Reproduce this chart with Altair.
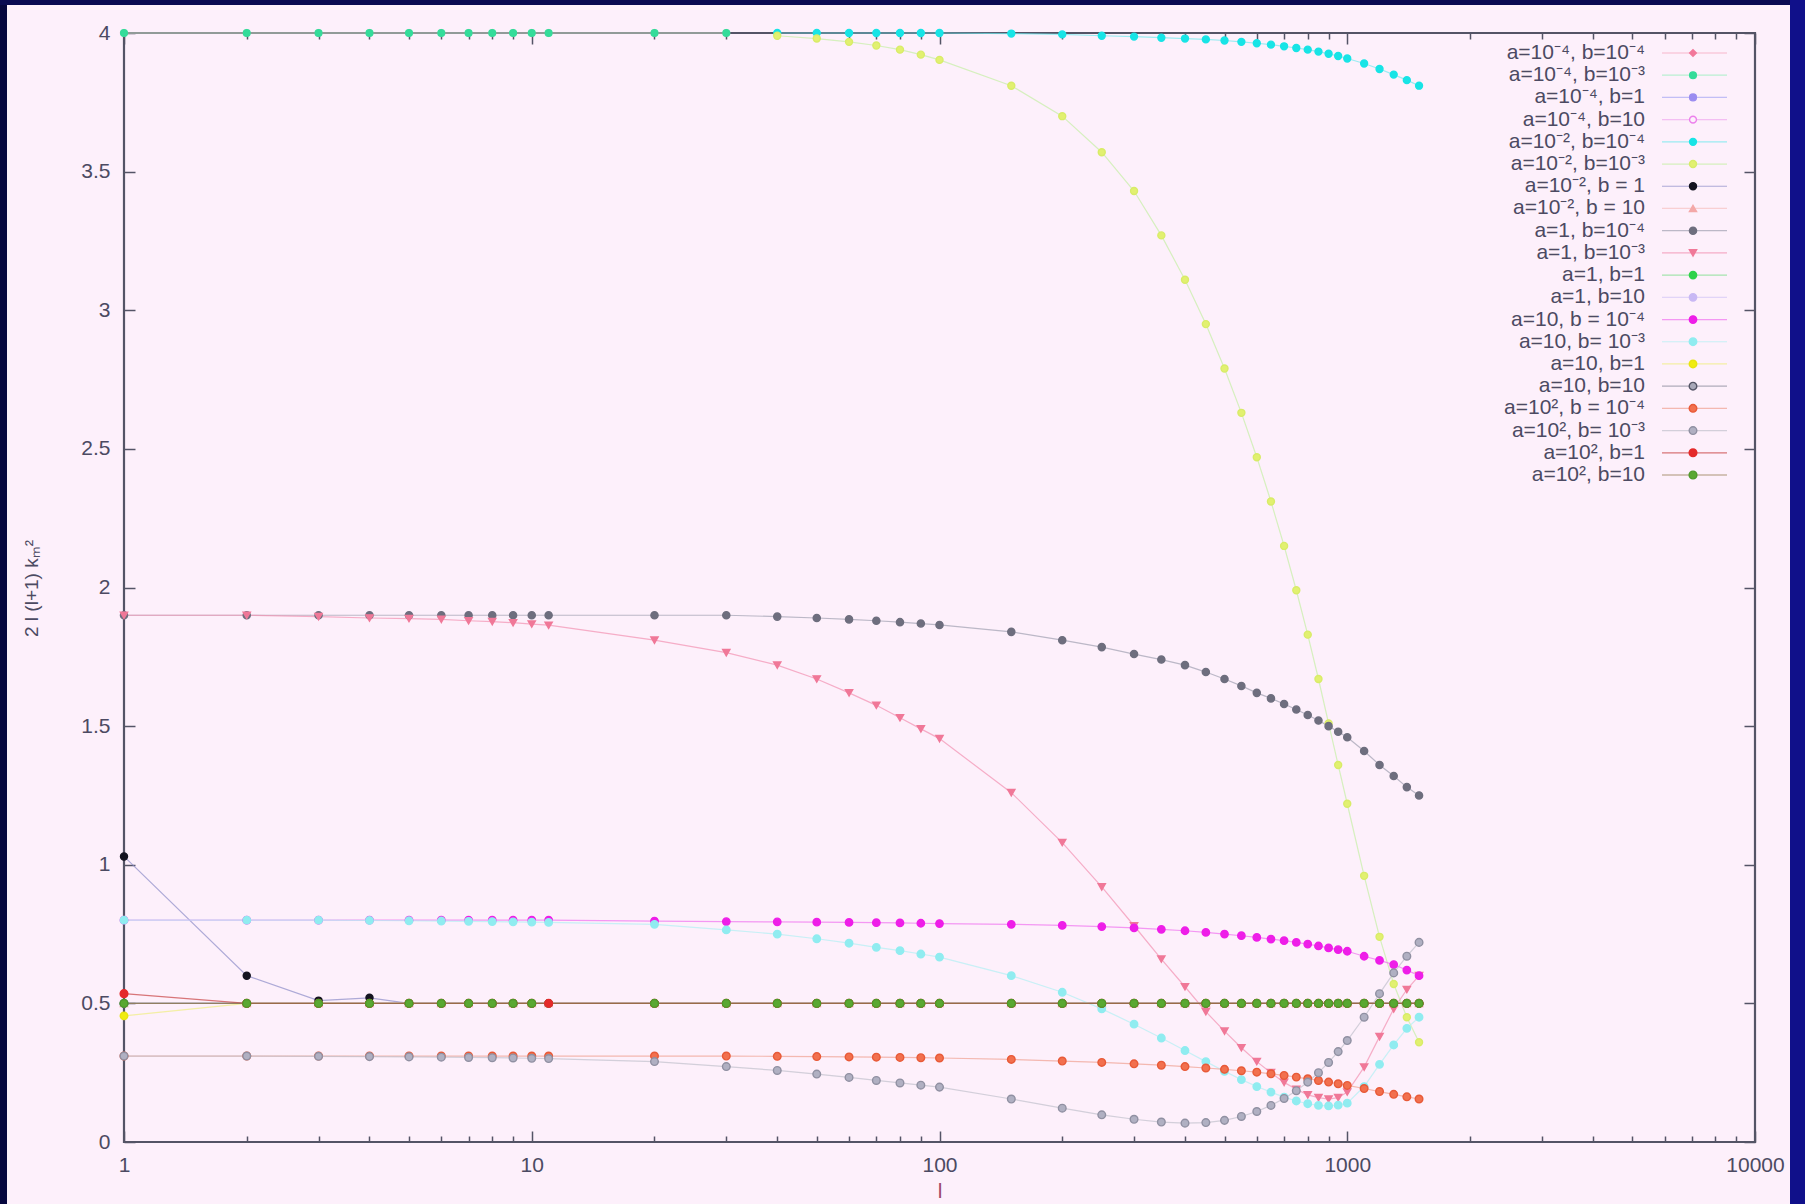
import altair as alt
import pandas as pd

# ---- sampling points in l -------------------------------------------------
L_ALL = [1, 2, 3, 4, 5, 6, 7, 8, 9, 10, 11,
         20, 30, 40, 50, 60, 70, 80, 90, 100,
         150, 200, 250, 300, 350, 400, 450, 500, 550, 600,
         650, 700, 750, 800, 850, 900, 950, 1000,
         1100, 1200, 1300, 1400, 1500]
L_LOW = [1, 2, 3, 4, 5, 6, 7, 8, 9, 10, 11, 20, 30]
L_FROM40 = [40, 50, 60, 70, 80, 90, 100,
            150, 200, 250, 300, 350, 400, 450, 500, 550, 600,
            650, 700, 750, 800, 850, 900, 950, 1000,
            1100, 1200, 1300, 1400, 1500]
L_NO11 = [1, 2, 3, 4, 5, 6, 7, 8, 9, 10,
          20, 30, 40, 50, 60, 70, 80, 90, 100,
          150, 200, 250, 300, 350, 400, 450, 500, 550, 600,
          650, 700, 750, 800, 850, 900, 950, 1000,
          1100, 1200, 1300, 1400, 1500]

# ---- curves: 2 l (l+1) k_m^2 -----------------------------------------------
v_a4_b4 = [4.0] * 13
v_a4_b3 = [4.0] * 13
v_a4_b1 = [0.5] * 43
v_a4_b10 = [0.5] * 43
v_a2_b4 = [4.0, 4.0, 4.0, 4.0, 4.0, 4.0, 4.0,
           3.998, 3.995, 3.99, 3.987, 3.983, 3.98, 3.977, 3.973, 3.968, 3.963,
           3.958, 3.952, 3.946, 3.94, 3.933, 3.925, 3.917, 3.908,
           3.89, 3.87, 3.85, 3.83, 3.81]
v_a2_b3 = [3.99, 3.98, 3.968, 3.955, 3.94, 3.922, 3.903,
           3.81, 3.70, 3.57, 3.43, 3.27, 3.11, 2.95, 2.79, 2.63, 2.47,
           2.31, 2.15, 1.99, 1.83, 1.67, 1.51, 1.36, 1.22,
           0.96, 0.74, 0.57, 0.45, 0.36]
v_a2_b1 = [1.03, 0.60, 0.51, 0.52] + [0.5] * 39
v_a2_b10 = [0.5] * 43
v_a1_b4 = [1.9, 1.9, 1.9, 1.9, 1.9, 1.9, 1.9, 1.9, 1.9, 1.9, 1.9,
           1.9, 1.9, 1.895, 1.89, 1.885, 1.88, 1.875, 1.87, 1.865,
           1.84, 1.81, 1.785, 1.76, 1.74, 1.72, 1.695, 1.67, 1.645, 1.62,
           1.60, 1.58, 1.56, 1.54, 1.52, 1.50, 1.48, 1.46,
           1.41, 1.36, 1.32, 1.28, 1.25]
v_a1_b3 = [1.90, 1.90, 1.895, 1.89, 1.888, 1.885, 1.88, 1.877, 1.873, 1.868, 1.864,
           1.81, 1.765, 1.72, 1.67, 1.62, 1.575, 1.53, 1.49, 1.455,
           1.26, 1.08, 0.92, 0.78, 0.66, 0.56, 0.47, 0.40, 0.34, 0.29,
           0.25, 0.215, 0.19, 0.17, 0.16, 0.155, 0.16, 0.18,
           0.27, 0.38, 0.48, 0.55, 0.60]
v_a1_b1 = [0.5] * 43
v_a1_b10 = [0.5] * 43
v_a10_b4 = [0.8] * 11 + [
           0.797, 0.795, 0.794, 0.793, 0.792, 0.791, 0.79, 0.789, 0.788,
           0.785, 0.781, 0.777, 0.772, 0.767, 0.762, 0.756, 0.75, 0.744, 0.738,
           0.732, 0.726, 0.72, 0.714, 0.707, 0.70, 0.694, 0.688,
           0.67, 0.655, 0.64, 0.62, 0.60]
v_a10_b3 = [0.8, 0.8, 0.8, 0.799, 0.798, 0.797, 0.796, 0.795, 0.794, 0.793, 0.792,
            0.785, 0.765, 0.75, 0.733, 0.717, 0.702, 0.69, 0.678, 0.667,
            0.60, 0.54, 0.48, 0.425, 0.375, 0.33, 0.29, 0.255, 0.225, 0.20,
            0.18, 0.162, 0.148, 0.138, 0.132, 0.13, 0.133, 0.14,
            0.20, 0.28, 0.35, 0.41, 0.45]
v_a10_b1 = [0.455] + [0.5] * 42
v_a10_b10 = [0.5] * 43
v_a100_b4 = [0.31] * 11 + [
            0.31, 0.31, 0.309, 0.308, 0.307, 0.306, 0.305, 0.304, 0.303,
            0.298, 0.292, 0.287, 0.282, 0.277, 0.272, 0.267, 0.262, 0.257, 0.252,
            0.246, 0.24, 0.234, 0.228, 0.222, 0.216, 0.21, 0.204,
            0.193, 0.182, 0.172, 0.163, 0.155]
v_a100_b3 = [0.31, 0.31, 0.309, 0.308, 0.307, 0.306, 0.305, 0.304, 0.303, 0.302, 0.301,
             0.29, 0.272, 0.258, 0.245, 0.233, 0.222, 0.213, 0.205, 0.198,
             0.155, 0.122, 0.098, 0.082, 0.072, 0.068, 0.07, 0.078, 0.092, 0.11,
             0.132, 0.157, 0.185, 0.216, 0.25, 0.287, 0.326, 0.366,
             0.45, 0.535, 0.61, 0.67, 0.72]
v_a100_b1 = [0.535] + [0.5] * 42
v_a100_b10 = [0.5] * 42

# ---- series table (plot order = key order) ---------------------------------
LABELS = ["a=10⁻⁴, b=10⁻⁴", "a=10⁻⁴, b=10⁻³", "a=10⁻⁴, b=1", "a=10⁻⁴, b=10",
          "a=10⁻², b=10⁻⁴", "a=10⁻², b=10⁻³", "a=10⁻², b = 1", "a=10⁻², b = 10",
          "a=1, b=10⁻⁴", "a=1, b=10⁻³", "a=1, b=1", "a=1, b=10",
          "a=10, b = 10⁻⁴", "a=10, b= 10⁻³", "a=10, b=1", "a=10, b=10",
          "a=10², b = 10⁻⁴", "a=10², b= 10⁻³", "a=10², b=1", "a=10², b=10"]
XS = [L_LOW, L_LOW, L_ALL, L_ALL, L_FROM40, L_FROM40, L_ALL, L_ALL,
      L_ALL, L_ALL, L_ALL, L_ALL, L_ALL, L_ALL, L_ALL, L_ALL,
      L_ALL, L_ALL, L_ALL, L_NO11]
YS = [v_a4_b4, v_a4_b3, v_a4_b1, v_a4_b10, v_a2_b4, v_a2_b3, v_a2_b1, v_a2_b10,
      v_a1_b4, v_a1_b3, v_a1_b1, v_a1_b10, v_a10_b4, v_a10_b3, v_a10_b1, v_a10_b10,
      v_a100_b4, v_a100_b3, v_a100_b1, v_a100_b10]

FILLS = ["#f2789a", "#34dc9a", "#9a8cf0", "#fdf0fb", "#18e4e6", "#e2f070",
         "#141420", "#f4a8a8", "#6e6e7e", "#f07898", "#2ed24a", "#c8b8f4",
         "#ee1ee8", "#90ecf0", "#f0ec10", "#a8a8b8", "#f2704e", "#b0b0c2",
         "#e42a2a", "#5aa832"]
STROKES = ["#f2789a", "#34dc9a", "#9a8cf0", "#ec80ec", "#18e4e6", "#d8ec68",
           "#141420", "#f4a8a8", "#6e6e7e", "#f07898", "#2ed24a", "#c8b8f4",
           "#ee1ee8", "#90ecf0", "#e8e410", "#555566", "#e85a38", "#9090a2",
           "#e42a2a", "#4e9a2a"]
LINES = ["#f4a0b8", "#9cf0c0", "#a8a8f4", "#f0a8f0", "#70eaee", "#c4f0a4",
         "#8c8cc8", "#f6c0c0", "#a0a0b0", "#f290b0", "#80e090", "#d4c8f6",
         "#f070f0", "#b0f0f4", "#f0ee80", "#9090a0", "#f0a090", "#c0c0cc",
         "#c84040", "#8a7040"]
SHAPES = ["diamond", "circle", "circle", "circle", "circle", "circle",
          "circle", "triangle-up", "circle", "triangle-down", "circle", "circle",
          "circle", "circle", "circle", "circle", "circle", "circle",
          "circle", "circle"]
SIZES = [45, 60, 50, 120, 170, 80, 110, 60, 35, 60, 60, 60,
         100, 120, 80, 160, 170, 170, 250, 250]

rows = []
for k, (lab, xs, ys) in enumerate(zip(LABELS, XS, YS)):
    for x, y in zip(xs, ys):
        rows.append({"series": lab, "k": k, "l": x, "v": y})
curves = pd.DataFrame(rows)
legend_df = pd.DataFrame({"series": LABELS, "row": list(range(1, 21))})

# ---- styling ----------------------------------------------------------------
BG = "#fdf0fb"
FRAME = "#545466"
TXT = "#4c4a62"
FONT = "Liberation Sans"
W, H = 1631, 1109

color_line = alt.Color("series:N", scale=alt.Scale(domain=LABELS, range=LINES), legend=None)
fill_enc = alt.Fill("series:N", scale=alt.Scale(domain=LABELS, range=FILLS), legend=None)
stroke_enc = alt.Stroke("series:N", scale=alt.Scale(domain=LABELS, range=STROKES), legend=None)
shape_enc = alt.Shape("series:N", scale=alt.Scale(domain=LABELS, range=SHAPES), legend=None)
size_enc = alt.Size("series:N", scale=alt.Scale(domain=LABELS, range=SIZES), legend=None)

xscale = alt.Scale(type="log", domain=[1, 10000], nice=False)
yscale = alt.Scale(domain=[0, 4], nice=False, zero=False)

MAJOR_X = [1, 10, 100, 1000, 10000]
MINOR_X = [2, 3, 4, 5, 6, 7, 8, 9, 20, 30, 40, 50, 60, 70, 80, 90,
           200, 300, 400, 500, 600, 700, 800, 900,
           2000, 3000, 4000, 5000, 6000, 7000, 8000, 9000]
Y_TICKS = [0, 0.5, 1, 1.5, 2, 2.5, 3, 3.5, 4]

tick_common = dict(domain=False, grid=False, tickColor=FRAME, tickWidth=1.5)

ax_bottom = alt.Axis(orient="bottom", values=MAJOR_X, format="~g", tickSize=11, offset=-11,
                     labelPadding=23, labelBaseline="middle", labelFlush=False,
                     labelFontSize=21, labelColor=TXT, labelFont=FONT,
                     title="l", titleFontSize=21, titleFontWeight="normal", titleColor="#a04a6a",
                     titleFont=FONT, titleBaseline="middle", titleY=60, **tick_common)
ax_left = alt.Axis(orient="left", values=Y_TICKS, format="~g", tickSize=11, offset=-11,
                   labelPadding=14, labelFlush=False, labelFontSize=21, labelColor=TXT,
                   labelFont=FONT, title="2 l (l+1) kₘ²", titleFontSize=19,
                   titleFontWeight="normal", titleColor=TXT, titleFont=FONT,
                   titleX=-104, titleY=555, titleAngle=270, titleBaseline="middle",
                   **tick_common)
ax_top = alt.Axis(orient="top", values=MAJOR_X, tickSize=11, offset=-11, labels=False,
                  title=None, **tick_common)
ax_right = alt.Axis(orient="right", values=Y_TICKS, tickSize=11, offset=-11, labels=False,
                    title=None, **tick_common)
ax_bottom_minor = alt.Axis(orient="bottom", values=MINOR_X, tickSize=6, offset=-6,
                           labels=False, title=None, **tick_common)
ax_top_minor = alt.Axis(orient="top", values=MINOR_X, tickSize=6, offset=-6,
                        labels=False, title=None, **tick_common)

one = pd.DataFrame({"k": [0]})

# screen bezel around the plot
bezel_left = alt.Chart(one).mark_rect(color="#06063e").encode(
    x=alt.value(-124), x2=alt.value(-117), y=alt.value(-33), y2=alt.value(H + 62))
bezel_top = alt.Chart(one).mark_rect(color="#0a0a52").encode(
    x=alt.value(-124), x2=alt.value(W + 50), y=alt.value(-33), y2=alt.value(-28))
bezel_right = alt.Chart(one).mark_rect(color="#10108a").encode(
    x=alt.value(W + 35), x2=alt.value(W + 50), y=alt.value(-33), y2=alt.value(H + 62))

lines = alt.Chart(curves).mark_line(strokeWidth=1.2, opacity=0.7).encode(
    x=alt.X("l:Q", scale=xscale, axis=ax_bottom),
    y=alt.Y("v:Q", scale=yscale, axis=ax_left),
    color=color_line,
    detail="series:N",
)

points = alt.Chart(curves).mark_point(filled=True, strokeWidth=1.4, opacity=1).encode(
    x=alt.X("l:Q", scale=xscale, axis=ax_top),
    y=alt.Y("v:Q", scale=yscale, axis=ax_right),
    fill=fill_enc, stroke=stroke_enc, shape=shape_enc, size=size_enc,
    order=alt.Order("k:Q"),
)

minor_bottom = alt.Chart(curves).mark_point(opacity=0).encode(
    x=alt.X("l:Q", scale=xscale, axis=ax_bottom_minor),
    y=alt.Y("v:Q", scale=yscale, axis=None),
)
minor_top = alt.Chart(curves).mark_point(opacity=0).encode(
    x=alt.X("l:Q", scale=xscale, axis=ax_top_minor),
    y=alt.Y("v:Q", scale=yscale, axis=None),
)

# key: label, sample line and symbol for each curve
ykey = alt.Y("row:Q", scale=alt.Scale(domain=[1, 20], range=[20, 442], nice=False, zero=False),
             axis=None)
key_lines = alt.Chart(legend_df).mark_rule(strokeWidth=1.2, opacity=0.7).encode(
    y=ykey, x=alt.value(1538), x2=alt.value(1603), color=color_line)
key_points = alt.Chart(legend_df).mark_point(filled=True, strokeWidth=1.4, opacity=1).encode(
    y=ykey, x=alt.value(1569), fill=fill_enc, stroke=stroke_enc, shape=shape_enc, size=size_enc)
key_text = alt.Chart(legend_df).mark_text(align="right", baseline="middle", fontSize=21,
                                          font=FONT, color=TXT).encode(
    y=ykey, x=alt.value(1521), text="series:N")

chart = alt.layer(
    bezel_left, bezel_top, bezel_right,
    lines, points, minor_bottom, minor_top,
    key_lines, key_points, key_text,
).resolve_scale(
    y="independent"
).resolve_axis(
    x="independent", y="independent"
).properties(
    width=W, height=H,
    padding={"left": 124, "top": 33, "right": 50, "bottom": 62},
    autosize=alt.AutoSizeParams(type="none"),
    background=BG,
).configure_view(
    stroke=FRAME, strokeWidth=2.2
)

chart.save("out.html", embed_options={"renderer": "svg", "actions": False})
